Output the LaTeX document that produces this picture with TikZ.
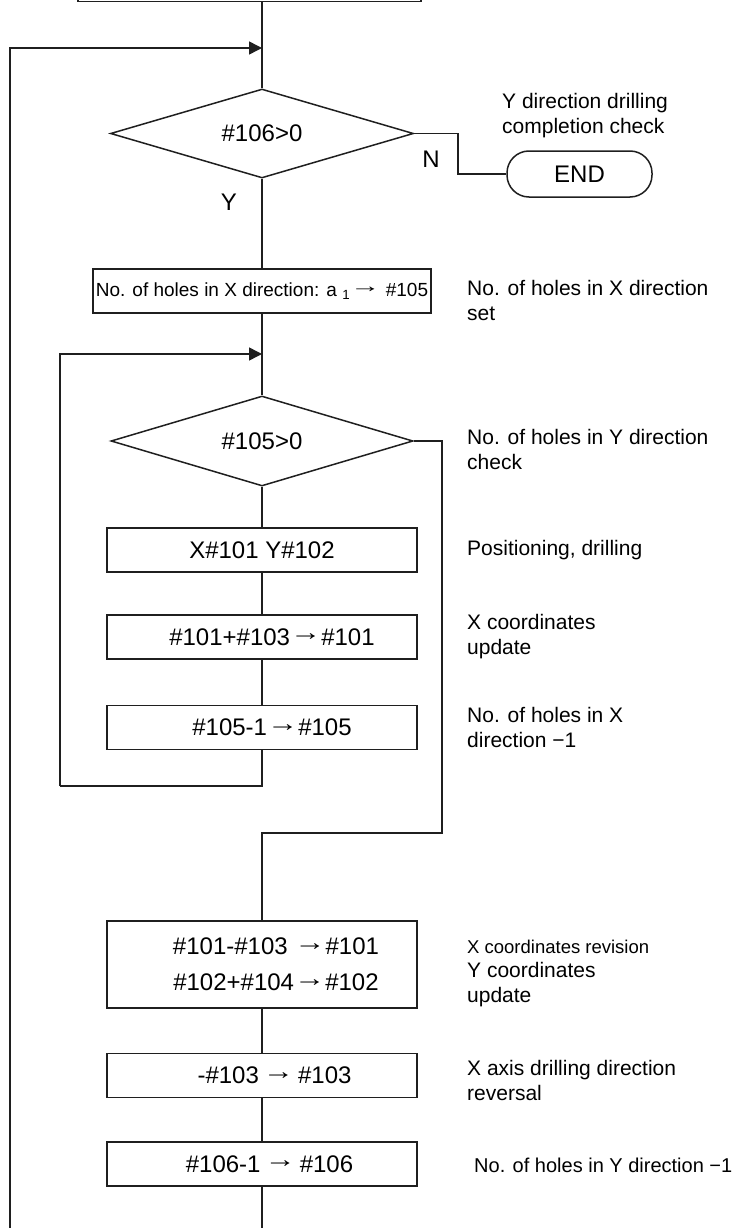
\documentclass[tikz,border=0pt]{standalone}
\usepackage{fontspec}
\usepackage{graphicx}
\setmainfont{Liberation Sans}
\usetikzlibrary{shapes.geometric,arrows.meta}
\newcommand{\rarr}{\raisebox{0.18em}{\scalebox{1.3}[1]{→}}}
\newcommand{\longrarr}{\raisebox{0.18em}{\scalebox{1.6}[1]{→}}}
\begin{document}
\begin{tikzpicture}[x=1pt,y=-1pt,
  line/.style={line width=1.5pt,draw=black!88,line join=miter},
  arr/.style={line,-{Triangle[length=13pt,width=13pt]}},
  proc/.style={line,rectangle,minimum width=310pt,minimum height=44pt,inner sep=0pt,font=\fontsize{24}{28}\selectfont},
  dec/.style={line,diamond,aspect=3.4,minimum width=302pt,minimum height=90pt,inner sep=0pt,font=\fontsize{24}{28}\selectfont},
  term/.style={line,rectangle,rounded corners=22pt,minimum width=145pt,minimum height=46pt,inner sep=0pt,font=\fontsize{24}{28}\selectfont},
  note/.style={anchor=west,align=left,inner sep=0pt,font=\fontsize{21}{25}\selectfont},
  yn/.style={inner sep=0pt,font=\fontsize{24}{28}\selectfont}]
\useasboundingbox (0,0) rectangle (742,1228);
\begin{scope}
\clip (0,0) rectangle (742,1228);
% nodes
\node[line,rectangle,minimum width=343pt,minimum height=60pt,inner sep=0pt] (top) at (249.5,-28.5) {};
\node[dec,minimum width=303pt,minimum height=89pt] (d1) at (262,133.5) {\#106>0};
\node[term] (end) at (579.5,174) {END};
\node[proc,minimum width=338pt,font=\fontsize{19}{22}\selectfont] (b1) at (262,291) {No. of holes in X direction: a \textsubscript{1}\longrarr{} \#105};
\node[dec] (d2) at (262,441) {\#105>0};
\node[proc] (b2) at (262,550) {X\#101 Y\#102};
\node[proc] (b3) at (262,637) {\hspace*{20pt}\#101+\#103\rarr\#101};
\node[proc] (b4) at (262,727.5) {\hspace*{20pt}\#105-1\rarr\#105};
\node[proc,minimum height=87pt,align=center,font=\fontsize{24}{36}\selectfont] (b5) at (262,964.5) {\hspace*{28pt}\#101-\#103 \rarr\#101\\\hspace*{28pt}\#102+\#104\rarr\#102};
\node[proc] (b6) at (262,1075.5) {\hspace*{25pt}-\#103\,\rarr\,\#103};
\node[proc] (b7) at (262,1164) {\hspace*{15pt}\#106-1\,\rarr\,\#106};
% coordinates
\coordinate (j1) at (262,48);
\coordinate (j2) at (262,354);
\coordinate (ob) at (10,1228);
\coordinate (nk) at (458,133.5);
\coordinate (ibl) at (60,786);
\coordinate (rb) at (442,833);
\coordinate (mb) at (262,1228);
% connectors
\draw[line] (top.south -| d1.north) -- (d1.north);
\draw[arr] (ob) |- (j1);
\draw[line] (d1.south) -- (b1.north);
\draw[line] (d1.east) -- (nk) |- (end.west);
\draw[line] (b1.south) -- (d2.north);
\draw[arr] (ibl) |- (j2);
\draw[line] (d2.south) -- (b2.north);
\draw[line] (b2.south) -- (b3.north);
\draw[line] (b3.south) -- (b4.north);
\draw[line] (b4.south) |- (ibl);
\draw[line] (d2.east) -| (rb) -| (b5.north);
\draw[line] (b5.south) -- (b6.north);
\draw[line] (b6.south) -- (b7.north);
\draw[line] (b7.south) -- (mb);
% labels
\node[yn] (lN) at (431,159) {N};
\node[yn] (lY) at (229,202) {Y};
\node[note] (a1) at (502,116) {Y direction drilling\\completion check};
\node[note] (a2) at (467,300.5) {No. of holes in X direction\\set};
\node[note] (a3) at (467,449.5) {No. of holes in Y direction\\check};
\node[note] (a4) at (467,550) {Positioning, drilling};
\node[note] (a5) at (467,637) {X coordinates\\update};
\node[note] (a6) at (467,727.5) {No. of holes in X\\direction −1};
\node[note,font=\fontsize{18.5}{22}\selectfont] (a7) at (467,947) {X coordinates revision};
\node[note] (a8) at (467,985) {Y coordinates\\update};
\node[note] (a9) at (467,1080.5) {X axis drilling direction\\reversal};
\node[note,font=\fontsize{20}{24}\selectfont] (a10) at (474,1165) {No. of holes in Y direction −1};
\end{scope}
\end{tikzpicture}
\end{document}
